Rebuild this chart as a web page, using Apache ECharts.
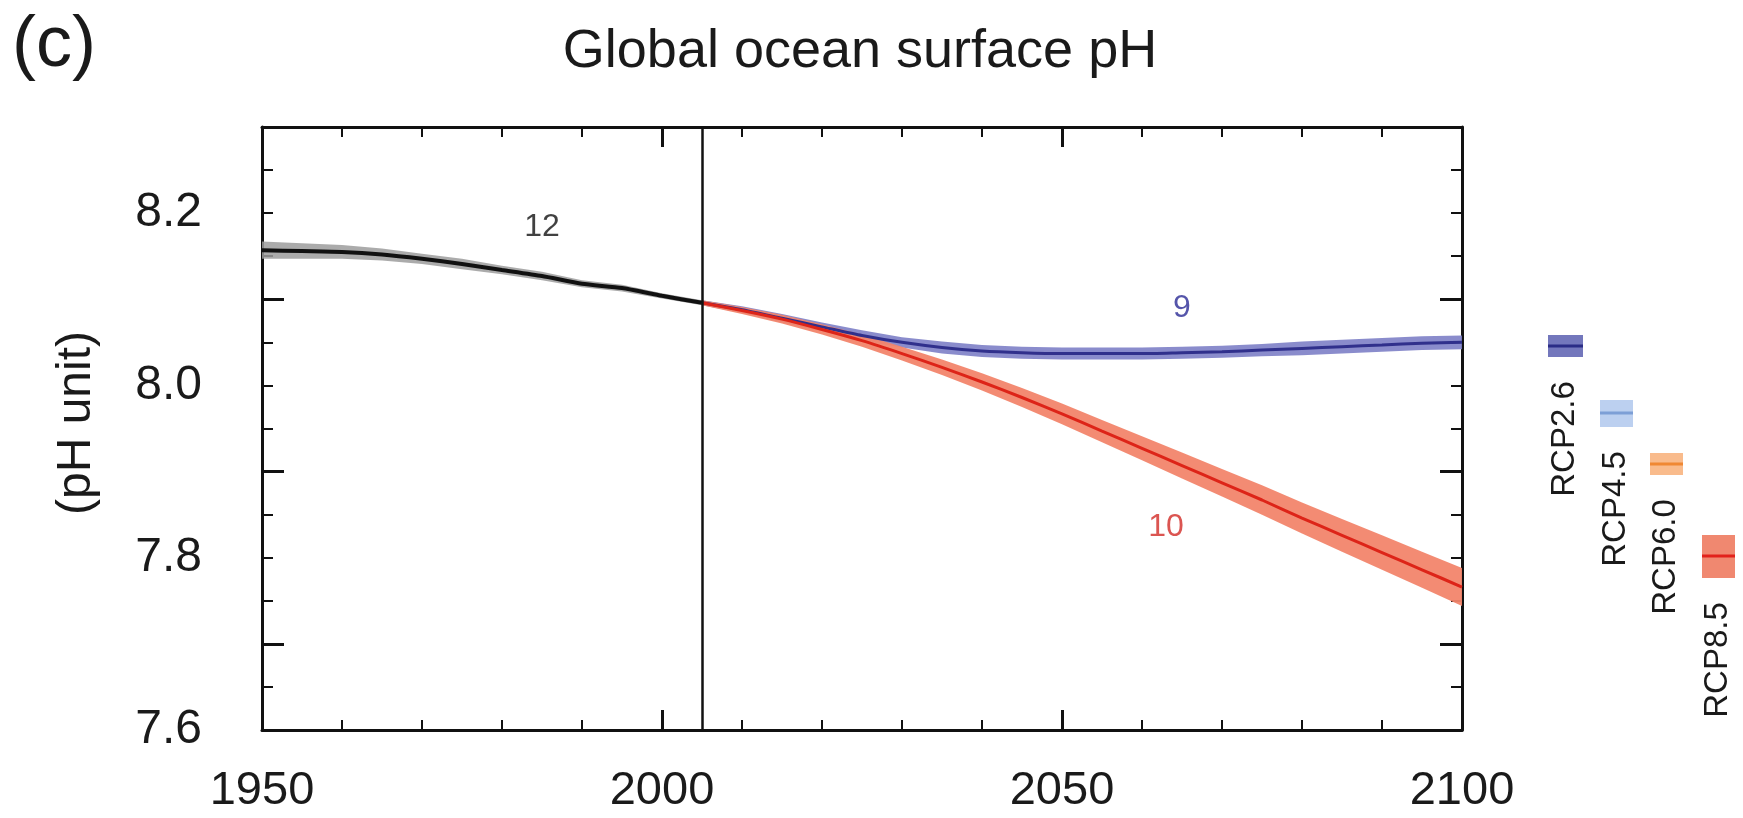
<!DOCTYPE html>
<html>
<head>
<meta charset="utf-8">
<script src="https://cdn.jsdelivr.net/npm/echarts@6/dist/echarts.min.js"></script>
<style>
html,body{margin:0;padding:0;background:#fff;}
#c{width:1743px;height:818px;}
</style>
</head>
<body>
<div id="c"></div>
<script>
// ---- data ----
const histYears = [1950,1955,1960,1965,1970,1975,1980,1985,1990,1995,2000,2005];
const histPH    = [8.157,8.156,8.155,8.152,8.147,8.141,8.134,8.127,8.118,8.113,8.104,8.096];
const histLow   = [8.147,8.147,8.147,8.145,8.141,8.135,8.129,8.122,8.114,8.109,8.101,8.093];
const histHigh  = [8.167,8.165,8.163,8.159,8.153,8.147,8.139,8.132,8.122,8.117,8.107,8.099];

const projYears = [2005,2010,2015,2020,2025,2030,2035,2040,2045,2050,2055,2060,2065,2070,2075,2080,2085,2090,2095,2100];
const rcp26     = [8.096,8.088,8.078,8.068,8.058,8.050,8.044,8.040,8.038,8.037,8.037,8.037,8.038,8.039,8.041,8.043,8.045,8.047,8.049,8.050];
const rcp26Low  = [8.093,8.084,8.073,8.063,8.052,8.044,8.037,8.033,8.031,8.030,8.030,8.030,8.031,8.032,8.034,8.035,8.037,8.039,8.041,8.042];
const rcp26High = [8.099,8.092,8.083,8.073,8.064,8.056,8.051,8.047,8.045,8.044,8.044,8.044,8.045,8.046,8.048,8.051,8.053,8.055,8.057,8.058];
const rcp85     = [8.096,8.087,8.077,8.065,8.052,8.037,8.021,8.004,7.986,7.967,7.947,7.927,7.907,7.887,7.867,7.846,7.826,7.806,7.786,7.766];
const rcp85Low  = [8.093,8.083,8.072,8.059,8.045,8.029,8.012,7.994,7.975,7.955,7.934,7.913,7.892,7.871,7.850,7.828,7.807,7.786,7.765,7.744];
const rcp85High = [8.099,8.091,8.082,8.071,8.059,8.045,8.030,8.014,7.997,7.979,7.960,7.941,7.922,7.903,7.884,7.864,7.845,7.826,7.807,7.788];

const xLabels = [1950,2000,2050,2100];
const yLabels = [7.6,7.8,8.0,8.2];
const yLongTicks = [7.7,7.9,8.1];
const yShortTicks = [7.65,7.75,7.8,7.85,7.95,8.0,8.05,8.15,8.2,8.25];
const dividerYear = 2005;

const noteTexts = ['12','9','10'];
const noteX = [1985,2065,2063];
const noteY = [8.184,8.090,7.836];
const noteColors = ['#111111','#2a2a95','#d22a26'];

const legendNames = ['RCP2.6','RCP4.5','RCP6.0','RCP8.5'];

// ---- helpers ----
function pairs(xs, ys){ return xs.map((x,i)=>[x, ys[i]]); }
function bandSeries(xs, lo, hi, color, opacity){
  return {
    type:'custom', coordinateSystem:'cartesian2d', silent:true, z:2,
    data:[[xs[0], lo[0]]],
    renderItem:function(params, api){
      const pts = [];
      for(let i=0;i<xs.length;i++) pts.push(api.coord([xs[i], hi[i]]));
      for(let i=xs.length-1;i>=0;i--) pts.push(api.coord([xs[i], lo[i]]));
      return {type:'polygon', shape:{points:pts}, style:{fill:color, opacity:opacity}};
    }
  };
}

const FONT = '"Liberation Sans", Arial, Helvetica, sans-serif';
const chart = echarts.init(document.getElementById('c'), null, {renderer:'canvas'});

const gridL = 262, gridT = 127, gridR = 281, gridB = 88;

const axisLine = {show:true, onZero:false, lineStyle:{color:'#111', width:3}};

const option = {
  backgroundColor:'#ffffff',
  animation:false,
  grid:{left:gridL, top:gridT, right:gridR, bottom:gridB, show:false},
  xAxis:[
    {type:'value', min:1950, max:2100, interval:50, position:'bottom',
     axisLine:axisLine,
     axisTick:{show:true, inside:true, length:20, lineStyle:{color:'#111', width:3}},
     minorTick:{show:true, splitNumber:5, length:10, lineStyle:{color:'#111', width:2}},
     axisLabel:{show:true, margin:38, fontSize:47, color:'#1a1a1a', fontFamily:FONT,
       customValues:xLabels, formatter:v=>String(v)},
     splitLine:{show:false}},
    {type:'value', min:1950, max:2100, interval:50, position:'top',
     axisLine:axisLine,
     axisTick:{show:true, inside:true, length:20, lineStyle:{color:'#111', width:3}},
     minorTick:{show:true, splitNumber:5, length:10, lineStyle:{color:'#111', width:2}},
     axisLabel:{show:false}, splitLine:{show:false}}
  ],
  yAxis:[
    {type:'value', min:7.6, max:8.3, interval:0.1, position:'left',
     axisLine:axisLine,
     axisTick:{show:true, inside:true, length:22, customValues:yLongTicks, lineStyle:{color:'#111', width:3}},
     axisLabel:{show:true, margin:60, fontSize:48, color:'#1a1a1a', fontFamily:FONT,
       customValues:yLabels, formatter:v=>v.toFixed(1)},
     splitLine:{show:false}},
    {type:'value', min:7.6, max:8.3, interval:0.1, position:'left',
     axisLine:{show:false},
     axisTick:{show:true, inside:true, length:11, customValues:yShortTicks, lineStyle:{color:'#111', width:2}},
     axisLabel:{show:false}, splitLine:{show:false}},
    {type:'value', min:7.6, max:8.3, interval:0.1, position:'right',
     axisLine:axisLine,
     axisTick:{show:true, inside:true, length:22, customValues:yLongTicks, lineStyle:{color:'#111', width:3}},
     axisLabel:{show:false}, splitLine:{show:false}},
    {type:'value', min:7.6, max:8.3, interval:0.1, position:'right',
     axisLine:{show:false},
     axisTick:{show:true, inside:true, length:11, customValues:yShortTicks, lineStyle:{color:'#111', width:2}},
     axisLabel:{show:false}, splitLine:{show:false}}
  ],
  series:[
    bandSeries(histYears, histLow, histHigh, '#9c9c9c', 0.85),
    {type:'line', data:pairs(histYears, histPH), showSymbol:false, smooth:0.2, z:3,
     lineStyle:{color:'#111111', width:4},
     markLine:{silent:true, symbol:['none','none'], label:{show:false},
       lineStyle:{color:'#111', width:2.5, type:'solid'}, data:[{xAxis:dividerYear}]}},
    bandSeries(projYears, rcp26Low, rcp26High, '#7d80c6', 0.9),
    {type:'line', data:pairs(projYears, rcp26), showSymbol:false, smooth:0.2, z:3,
     lineStyle:{color:'#30308c', width:3}},
    bandSeries(projYears, rcp85Low, rcp85High, '#f2856b', 0.95),
    {type:'line', data:pairs(projYears, rcp85), showSymbol:false, smooth:0.2, z:4,
     lineStyle:{color:'#dd2418', width:3}},
    {type:'scatter', symbolSize:0, z:5, silent:true,
     data:noteTexts.map((t,i)=>({value:[noteX[i], noteY[i]], name:t,
       label:{show:true, position:'inside', formatter:t, fontSize:32, color:noteColors[i], fontFamily:FONT}}))}
  ],
  graphic:[
    {type:'text', left:12, top:10, style:{text:'(c)', font:'72px '+FONT, fill:'#1a1a1a'}},
    {type:'text', x:860, y:52, style:{text:'Global ocean surface pH', font:'54px '+FONT, fill:'#1a1a1a', align:'center', verticalAlign:'middle'}},
    {type:'text', x:77, y:423, rotation:Math.PI/2, style:{text:'(pH unit)', font:'48px '+FONT, fill:'#1a1a1a', align:'center', verticalAlign:'middle'}},
    // legend boxes
    {type:'rect', shape:{x:1548,y:335,width:35,height:22}, style:{fill:'#5b5fb0', opacity:0.85}},
    {type:'line', shape:{x1:1548,y1:346,x2:1583,y2:346}, style:{stroke:'#2a2c86', lineWidth:3}},
    {type:'rect', shape:{x:1600,y:400,width:33,height:27}, style:{fill:'#bcd0f0'}},
    {type:'line', shape:{x1:1600,y1:413,x2:1633,y2:413}, style:{stroke:'#7d9fd6', lineWidth:3}},
    {type:'rect', shape:{x:1650,y:453,width:33,height:22}, style:{fill:'#f9bb8c'}},
    {type:'line', shape:{x1:1650,y1:464,x2:1683,y2:464}, style:{stroke:'#f08833', lineWidth:3}},
    {type:'rect', shape:{x:1702,y:535,width:33,height:43}, style:{fill:'#f08870'}},
    {type:'line', shape:{x1:1702,y1:556,x2:1735,y2:556}, style:{stroke:'#e2221b', lineWidth:3}},
    {type:'text', x:1565, y:439, rotation:Math.PI/2, style:{text:legendNames[0], font:'33px '+FONT, fill:'#1a1a1a', align:'center', verticalAlign:'middle'}},
    {type:'text', x:1616, y:509, rotation:Math.PI/2, style:{text:legendNames[1], font:'33px '+FONT, fill:'#1a1a1a', align:'center', verticalAlign:'middle'}},
    {type:'text', x:1666, y:557, rotation:Math.PI/2, style:{text:legendNames[2], font:'33px '+FONT, fill:'#1a1a1a', align:'center', verticalAlign:'middle'}},
    {type:'text', x:1718, y:660, rotation:Math.PI/2, style:{text:legendNames[3], font:'33px '+FONT, fill:'#1a1a1a', align:'center', verticalAlign:'middle'}}
  ]
};
chart.setOption(option);
</script>
</body>
</html>
